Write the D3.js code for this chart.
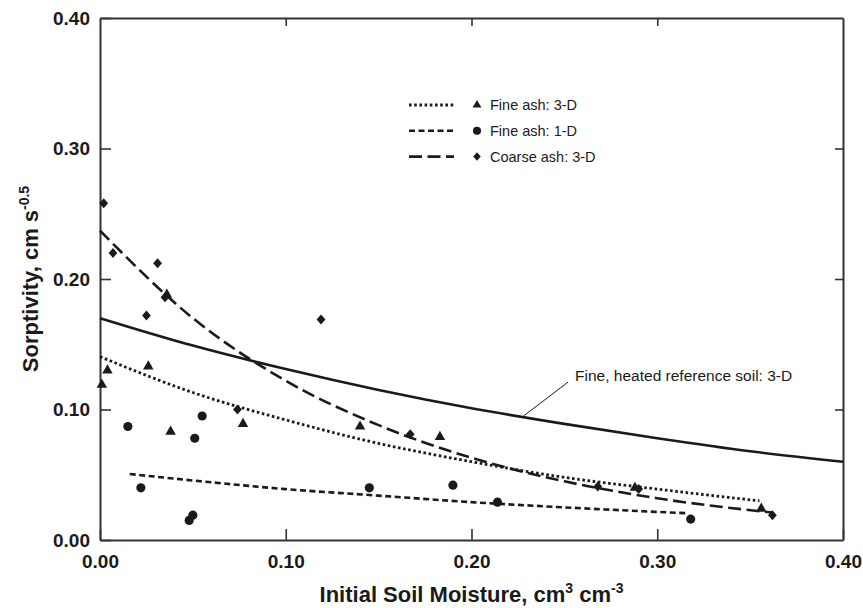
<!DOCTYPE html>
<html>
<head>
<meta charset="utf-8">
<script src="https://cdn.jsdelivr.net/npm/d3@7"></script>
<style>
  body { margin: 0; background: #fff; }
  svg { display: block; font-family: "Liberation Sans", Arial, sans-serif; }
  .tick text { font-weight: bold; font-size: 19px; fill: #1a1a1a; }
</style>
</head>
<body>
<div id="chart"></div>
<script>
// measured points, [moisture, sorptivity]
const fineAsh3D = [[0.001, 0.119], [0.004, 0.130], [0.026, 0.133], [0.036, 0.188], [0.038, 0.083],
  [0.077, 0.089], [0.140, 0.087], [0.183, 0.079], [0.288, 0.040], [0.356, 0.024]];
const fineAsh1D = [[0.015, 0.087], [0.022, 0.040], [0.048, 0.015], [0.050, 0.019], [0.051, 0.078],
  [0.055, 0.095], [0.145, 0.040], [0.190, 0.042], [0.214, 0.029], [0.318, 0.016]];
const coarseAsh3D = [[0.002, 0.258], [0.007, 0.220], [0.025, 0.172], [0.031, 0.212], [0.035, 0.186],
  [0.074, 0.100], [0.119, 0.169], [0.167, 0.081], [0.268, 0.041], [0.290, 0.039], [0.362, 0.019]];

// fitted curves
const fineAsh3DFit = [[0.000, 0.1405], [0.05, 0.113], [0.10, 0.092], [0.15, 0.074], [0.20, 0.060],
  [0.25, 0.048], [0.30, 0.039], [0.355, 0.030]];
const fineAsh1DFit = [[0.016, 0.0506], [0.05, 0.0456], [0.10, 0.039], [0.15, 0.034], [0.20, 0.029],
  [0.25, 0.025], [0.316, 0.0205]];
const coarseAsh3DFit = [[0.000, 0.237], [0.05, 0.170], [0.10, 0.122], [0.15, 0.088], [0.20, 0.063],
  [0.25, 0.045], [0.30, 0.032], [0.362, 0.021]];
const referenceFit = [[0.00, 0.170], [0.05, 0.149], [0.10, 0.131], [0.15, 0.115], [0.20, 0.101],
  [0.25, 0.089], [0.30, 0.078], [0.35, 0.068], [0.40, 0.060]];

const xTicks = [0, 0.1, 0.2, 0.3, 0.4];
const yTicks = [0, 0.1, 0.2, 0.3, 0.4];
const legendLabels = ['Fine ash: 3-D', 'Fine ash: 1-D', 'Coarse ash: 3-D'];
const referenceLabel = 'Fine, heated reference soil: 3-D';
const referenceLeader = [[0.228, 0.095], [0.252, 0.121]];

const W = 863, H = 608;
const margin = { top: 18, right: 20, bottom: 68, left: 100 };
const width = W - margin.left - margin.right;
const height = H - margin.top - margin.bottom;
const ink = '#1a1a1a';

const svg = d3.select('#chart').append('svg')
  .attr('width', W).attr('height', H);
const g = svg.append('g').attr('transform', `translate(${margin.left},${margin.top})`);

const x = d3.scaleLinear().domain([0, 0.4]).range([0, width]);
const y = d3.scaleLinear().domain([0, 0.4]).range([height, 0]);
const fmt = d3.format('.2f');

// axes with inward ticks
g.append('g').attr('transform', `translate(0,${height})`)
  .call(d3.axisBottom(x).tickValues(xTicks).tickFormat(fmt).tickSizeInner(-11).tickSizeOuter(0).tickPadding(15));
g.append('g')
  .call(d3.axisLeft(y).tickValues(yTicks).tickFormat(fmt).tickSizeInner(-11).tickSizeOuter(0).tickPadding(10));
g.append('g')
  .call(d3.axisTop(x).tickValues(xTicks.slice(1, -1)).tickFormat('').tickSizeInner(-8).tickSizeOuter(0));
g.append('g').attr('transform', `translate(${width},0)`)
  .call(d3.axisRight(y).tickValues(yTicks.slice(1, -1)).tickFormat('').tickSizeInner(-8).tickSizeOuter(0));
g.selectAll('.domain').attr('stroke', '#333').attr('stroke-width', 2);
g.selectAll('.tick line').attr('stroke', '#333').attr('stroke-width', 1.6);

// axis titles
const yTitle = svg.append('text')
  .attr('transform', `translate(38,${margin.top + height / 2}) rotate(-90)`)
  .attr('text-anchor', 'middle')
  .attr('font-size', 22).attr('font-weight', 'bold').attr('fill', ink);
yTitle.append('tspan').text('Sorptivity, cm s');
yTitle.append('tspan').attr('font-size', 14).attr('dy', -9).text('-0.5');

const xTitle = svg.append('text')
  .attr('x', margin.left + width / 2).attr('y', 602)
  .attr('text-anchor', 'middle')
  .attr('font-size', 22).attr('font-weight', 'bold').attr('fill', ink);
xTitle.append('tspan').text('Initial Soil Moisture, cm');
xTitle.append('tspan').attr('font-size', 14).attr('dy', -9).text('3');
xTitle.append('tspan').attr('dy', 9).text(' cm');
xTitle.append('tspan').attr('font-size', 14).attr('dy', -9).text('-3');

// curves
const line = d3.line().x(d => x(d[0])).y(d => y(d[1])).curve(d3.curveMonotoneX);
const styles = {
  dotted: { dash: '2.6,2.6', w: 2.8 },
  short: { dash: '6,3.5', w: 2.6 },
  long: { dash: '13,5.5', w: 2.6 },
  solid: { dash: null, w: 2.6 }
};
const curves = [
  { data: referenceFit, s: styles.solid },
  { data: fineAsh3DFit, s: styles.dotted },
  { data: fineAsh1DFit, s: styles.short },
  { data: coarseAsh3DFit, s: styles.long }
];
g.selectAll('.fit').data(curves).enter().append('path')
  .attr('class', 'fit')
  .attr('d', d => line(d.data))
  .attr('fill', 'none').attr('stroke', ink)
  .attr('stroke-width', d => d.s.w)
  .attr('stroke-dasharray', d => d.s.dash);

// markers
const diamond = {
  draw(ctx, size) {
    const h = Math.sqrt(size) / 2;
    const w = h * 0.88;
    ctx.moveTo(0, -h); ctx.lineTo(w, 0); ctx.lineTo(0, h); ctx.lineTo(-w, 0); ctx.closePath();
  }
};
const series = [
  { data: fineAsh3D, sym: d3.symbolTriangle, size: 48, legSize: 34 },
  { data: fineAsh1D, sym: d3.symbolCircle, size: 66, legSize: 52 },
  { data: coarseAsh3D, sym: diamond, size: 100, legSize: 72 }
];
series.forEach(s => {
  g.append('g').selectAll('path').data(s.data).enter().append('path')
    .attr('transform', d => `translate(${x(d[0])},${y(d[1])})`)
    .attr('d', d3.symbol().type(s.sym).size(s.size)())
    .attr('fill', ink);
});

// reference curve label
g.append('line')
  .attr('x1', x(referenceLeader[0][0])).attr('y1', y(referenceLeader[0][1]))
  .attr('x2', x(referenceLeader[1][0])).attr('y2', y(referenceLeader[1][1]))
  .attr('stroke', ink).attr('stroke-width', 1);
g.append('text')
  .attr('x', x(referenceLeader[1][0]) + 7).attr('y', y(referenceLeader[1][1]) - 7)
  .attr('dominant-baseline', 'central')
  .attr('font-size', 15.5).attr('fill', ink)
  .text(referenceLabel);

// legend
const legendStyles = [styles.dotted, styles.short, styles.long];
const legend = svg.append('g').attr('transform', 'translate(409,105)');
const rows = legend.selectAll('g').data(legendLabels).enter().append('g')
  .attr('transform', (d, i) => `translate(0,${i * 25.8})`);
rows.append('line')
  .attr('x1', 0).attr('x2', 45)
  .attr('stroke', ink)
  .attr('stroke-width', (d, i) => legendStyles[i].w)
  .attr('stroke-dasharray', (d, i) => legendStyles[i].dash);
rows.append('path')
  .attr('transform', 'translate(68,0)')
  .attr('d', (d, i) => d3.symbol().type(series[i].sym).size(series[i].legSize)())
  .attr('fill', ink);
rows.append('text')
  .attr('x', 81).attr('dominant-baseline', 'central')
  .attr('font-size', 14.5).attr('fill', ink)
  .text(d => d);
</script>
</body>
</html>
